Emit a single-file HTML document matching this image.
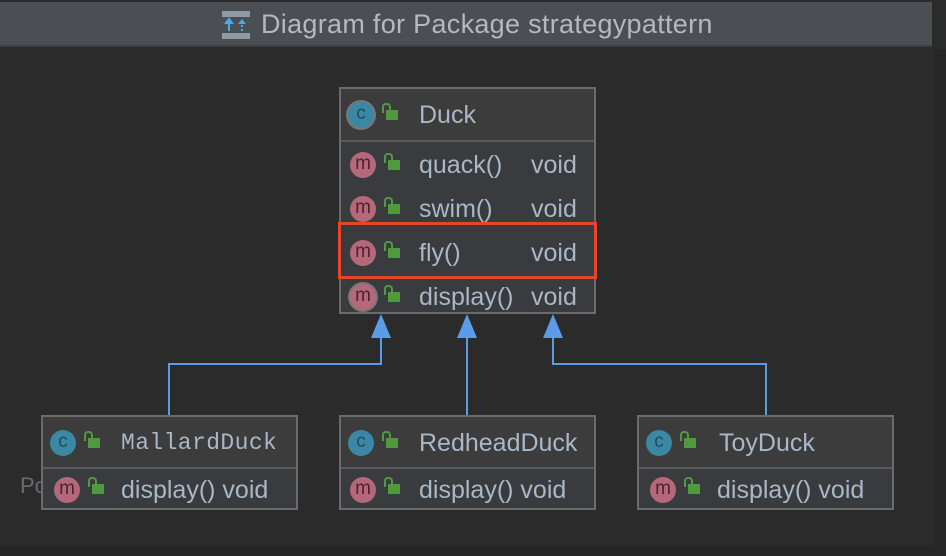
<!DOCTYPE html>
<html><head><meta charset="utf-8"><style>
*{margin:0;padding:0;box-sizing:border-box}
body{width:946px;height:556px;background:#2b2b2b;position:relative;overflow:hidden;font-family:"Liberation Sans",sans-serif;color:#a9b7c6}
.abs{position:absolute}
.title{left:0;top:2px;width:932px;height:45px;background:#4b4e53;border-bottom:2px solid #3e4043}
.title span{position:absolute;left:261px;top:7px;font-size:27px;color:#b5b8bc;letter-spacing:0.3px}
.box{position:absolute;border:2px solid #6b6b6b;background:#393b3e}
.hdr{position:absolute;left:0;right:0;top:0;background:#3c3c3c;border-bottom:2px solid #5a5a5a}
.row{position:absolute;left:0;right:0;height:44px;font-size:25px;line-height:44px}
.ic{position:absolute;width:26px;height:26px;border-radius:50%;top:9px;text-align:center;font-size:19px;line-height:24px}
.c{background:#3a88a4;color:#1e4d5f}
.m{background:#b4687a;color:#4a2430}
.lock{position:absolute;top:17px;width:12px;height:10px;background:#4f9a3f}
.lock:before{content:"";position:absolute;left:-4px;top:-7px;width:5px;height:8px;border:2px solid #4f9a3f;border-bottom:none;border-radius:4px 4px 0 0}
.t{position:absolute;left:78px}
.v{position:absolute;left:190px}
</style></head><body>
<div class="abs title">
<svg class="abs" style="left:222px;top:9px" width="28" height="28"><rect x="0" y="0" width="28" height="6" fill="#8e9aa4"/><rect x="0" y="22" width="28" height="6" fill="#8e9aa4"/><path d="M7 20V10M3 13L7 8L11 13" stroke="#3daee9" stroke-width="2" fill="#3daee9"/><path d="M20 20V10" stroke="#3daee9" stroke-width="2" stroke-dasharray="2 2"/><path d="M16 13L20 8L24 13Z" fill="#3daee9"/></svg>
<span>Diagram for Package strategypattern</span></div>
<div class="abs" style="left:934px;top:49px;width:12px;height:507px;background:#262626"></div>
<div class="abs" style="left:0;top:546px;width:946px;height:10px;background:#262626"></div>
<div class="abs" style="left:20px;top:473px;font-size:22px;color:#6a6a6a">Po</div>

<svg class="abs" style="left:0;top:0" width="946" height="556">
<g stroke="#5b9be8" stroke-width="2" fill="none">
<path d="M381 336V364H169V416"/><path d="M467 336V416"/><path d="M553 336V364H766V416"/></g>
<g fill="#5b9be8"><path d="M381 314L371 338H391Z"/><path d="M467 314L457 338H477Z"/><path d="M553 314L543 338H563Z"/></g>
</svg>

<div class="box" style="left:339px;top:87px;width:257px;height:227px">
<div class="hdr" style="height:53px"><div class="row" style="top:4px"><div class="ic c" style="left:7px;box-shadow:0 0 0 2px #777">c</div><div class="lock" style="left:45px"></div><div class="t">Duck</div></div></div>
<div class="row" style="top:54px"><div class="ic m" style="left:9px">m</div><div class="lock" style="left:47px"></div><div class="t">quack()</div><div class="v">void</div></div>
<div class="row" style="top:98px"><div class="ic m" style="left:9px">m</div><div class="lock" style="left:47px"></div><div class="t">swim()</div><div class="v">void</div></div>
<div class="row" style="top:142px"><div class="ic m" style="left:9px">m</div><div class="lock" style="left:47px"></div><div class="t">fly()</div><div class="v">void</div></div>
<div class="row" style="top:186px"><div class="ic m" style="left:9px;box-shadow:0 0 0 2px #777">m</div><div class="lock" style="left:47px"></div><div class="t">display()</div><div class="v">void</div></div>
</div>
<div class="abs" style="left:338px;top:222px;width:259px;height:57px;border:3px solid #e8442a"></div>

<div class="box" style="left:41px;top:415px;width:257px;height:95px">
<div class="hdr" style="height:52px"><div class="row" style="top:4px"><div class="ic c" style="left:7px">c</div><div class="lock" style="left:45px"></div><div class="t" style="font-family:'Liberation Mono',monospace;font-size:23px;letter-spacing:0.4px">MallardDuck</div></div></div>
<div class="row" style="top:53px;height:40px;line-height:40px"><div class="ic m" style="left:11px;top:7px">m</div><div class="lock" style="left:49px;top:14px"></div><div class="t">display() void</div></div>
</div>
<div class="box" style="left:339px;top:415px;width:257px;height:95px">
<div class="hdr" style="height:52px"><div class="row" style="top:4px"><div class="ic c" style="left:7px">c</div><div class="lock" style="left:45px"></div><div class="t">RedheadDuck</div></div></div>
<div class="row" style="top:53px;height:40px;line-height:40px"><div class="ic m" style="left:9px;top:7px">m</div><div class="lock" style="left:47px;top:14px"></div><div class="t">display() void</div></div>
</div>
<div class="box" style="left:637px;top:415px;width:257px;height:95px">
<div class="hdr" style="height:52px"><div class="row" style="top:4px"><div class="ic c" style="left:7px">c</div><div class="lock" style="left:45px"></div><div class="t" style="left:80px">ToyDuck</div></div></div>
<div class="row" style="top:53px;height:40px;line-height:40px"><div class="ic m" style="left:11px;top:7px">m</div><div class="lock" style="left:49px;top:14px"></div><div class="t">display() void</div></div>
</div>
</body></html>
